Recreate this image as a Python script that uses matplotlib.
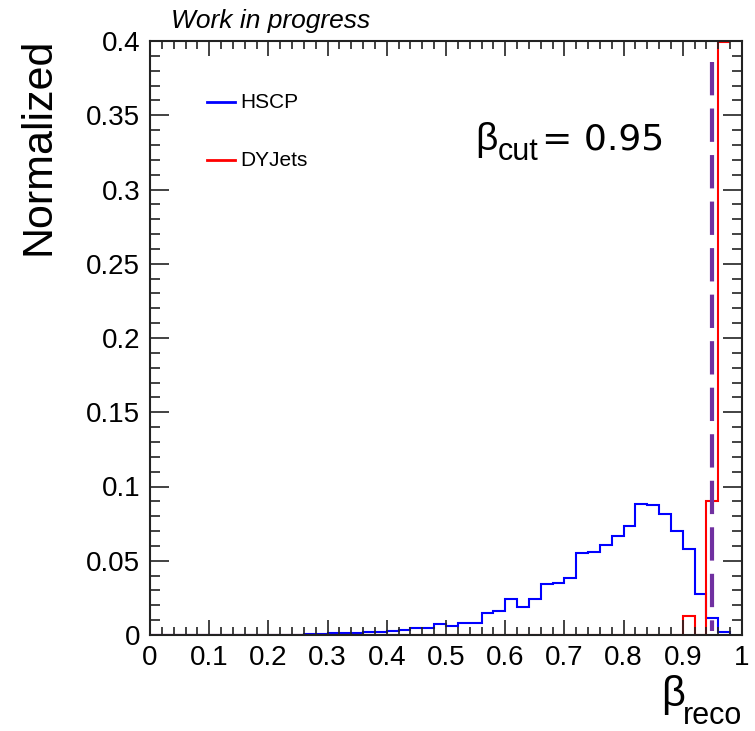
import numpy as np
import matplotlib
matplotlib.use("Agg")
import matplotlib.pyplot as plt
from matplotlib.ticker import MultipleLocator, FuncFormatter
from matplotlib.lines import Line2D

plt.rcParams['font.family'] = ['Liberation Sans', 'DejaVu Sans']
plt.rcParams['lines.scale_dashes'] = False

# 50 bins of width 0.02 between 0 and 1
bin_edges = np.linspace(0.0, 1.0, 51)

hscp = [0.0] * 13 + [
    0.0007, 0.0007, 0.0011, 0.0016, 0.0016, 0.0018, 0.0023, 0.0027,
    0.0036, 0.0050, 0.0050, 0.0076, 0.0061, 0.0080, 0.0080, 0.0151,
    0.0162, 0.0245, 0.0187, 0.0245, 0.0342, 0.0353, 0.0387, 0.0555,
    0.0560, 0.0609, 0.0668, 0.0733, 0.0884, 0.0877, 0.0814, 0.0702,
    0.0580, 0.0279, 0.0113, 0.0022,
]
# last DYJets bin runs over the top of the frame, outline stops at 0.98
dyjets = [0.0] * 45 + [0.0128, 0.0, 0.0900, 0.3990]

beta_cut = 0.95
x_ticks = [0.0, 0.1, 0.2, 0.3, 0.4, 0.5, 0.6, 0.7, 0.8, 0.9, 1.0]
y_ticks = [0.0, 0.05, 0.1, 0.15, 0.2, 0.25, 0.3, 0.35, 0.4]

W, H = 755, 731


def fx(px):
    return px / W


def fy(py):
    return 1 - py / H


fig = plt.figure(figsize=(W / 100, H / 100), dpi=100)
ax = fig.add_axes([fx(150), fy(635), (742 - 150) / W, (635 - 41) / H])

ax.stairs(hscp, bin_edges[:len(hscp) + 1], color='#0000ff', lw=1.5)
ax.stairs(dyjets, bin_edges[:len(dyjets) + 1], color='#ff0000', lw=1.5,
          baseline=None)
ax.plot([beta_cut, beta_cut], [0.386, 0.003], color='#7030a0', lw=3,
        dashes=(24, 9.5))

ax.set_xlim(0, 1)
ax.set_ylim(0, 0.4)
ax.set_xticks(x_ticks)
ax.set_yticks(y_ticks)
ax.xaxis.set_minor_locator(MultipleLocator(0.02))
ax.yaxis.set_minor_locator(MultipleLocator(0.01))
fmt = FuncFormatter(lambda v, p: '%g' % round(v, 3))
ax.xaxis.set_major_formatter(fmt)
ax.yaxis.set_major_formatter(fmt)

ax.tick_params(which='both', direction='in', top=True, right=True,
               color='#222222', width=1.2, labelsize=20)
ax.tick_params(axis='x', which='major', length=11, pad=7)
ax.tick_params(axis='x', which='minor', length=6)
ax.tick_params(axis='y', which='major', length=14, pad=7)
ax.tick_params(axis='y', which='minor', length=7)
for s in ax.spines.values():
    s.set_linewidth(1.5)
    s.set_color('#222222')

# axis titles
fig.text(fx(39), fy(38), 'Normalized', rotation=90, ha='center', va='top',
         fontsize=31)
fig.text(fx(661), fy(706), 'β', fontsize=30, ha='left', va='baseline')
fig.text(fx(742), fy(724), 'reco', fontsize=22, ha='right', va='baseline')

fig.text(fx(171), fy(28), 'Work in progress', fontsize=19, style='italic',
         ha='left', va='baseline')

# cut annotation
fig.text(fx(475), fy(150), 'β', fontsize=28, ha='left', va='baseline')
fig.text(fx(498), fy(160), 'cut', fontsize=22, ha='left', va='baseline')
fig.text(fx(664), fy(150), '= 0.95', fontsize=26, ha='right', va='baseline',
         family='DejaVu Sans')

# legend
for y_px, col, lab in [(102, '#0000ff', 'HSCP'), (160, '#ff0000', 'DYJets')]:
    fig.add_artist(Line2D([fx(207), fx(235)], [fy(y_px), fy(y_px)],
                          color=col, lw=2))
    fig.text(fx(240), fy(y_px), lab, fontsize=15, ha='left', va='center')

fig.savefig('out.png', dpi=100)
